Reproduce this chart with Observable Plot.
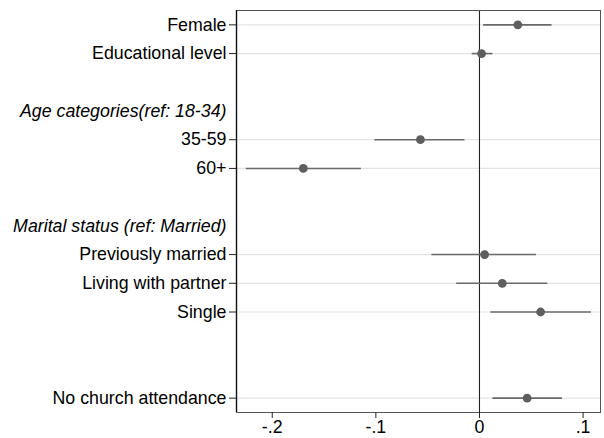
<!DOCTYPE html>
<html>
<head>
<meta charset="utf-8">
<script src="https://cdn.jsdelivr.net/npm/d3@7"></script>
<script src="https://cdn.jsdelivr.net/npm/@observablehq/plot@0.6"></script>
<style>
  html, body { margin: 0; padding: 0; background: #fff; }
  #chart { width: 604px; height: 438px; }
</style>
</head>
<body>
<div id="chart"></div>
<script>
// Row order from top to bottom (blank rows are spacer slots)
const rowOrder = ["Female", "Educational level", " 1",
  "Age categories(ref: 18-34)", "35-59", "60+", " 2",
  "Marital status (ref: Married)", "Previously married", "Living with partner", "Single",
  " 3", " 4", "No church attendance"];
const headers = ["Age categories(ref: 18-34)", "Marital status (ref: Married)"];
const variables = ["Female", "Educational level", "35-59", "60+",
  "Previously married", "Living with partner", "Single", "No church attendance"];
const estimates = [0.037, 0.002, -0.057, -0.170, 0.005, 0.022, 0.059, 0.046];
const lowers    = [0.004, -0.007, -0.101, -0.225, -0.046, -0.022, 0.011, 0.013];
const uppers    = [0.070, 0.013, -0.014, -0.114, 0.055, 0.066, 0.108, 0.080];
const xTicks = [-0.2, -0.1, 0, 0.1];
const xTickLabels = ["-.2", "-.1", "0", ".1"];

const data = variables.map((v, i) => ({label: v, est: estimates[i], lo: lowers[i], hi: uppers[i]}));

const chart = Plot.plot({
  width: 604,
  height: 438,
  marginLeft: 236,
  marginRight: 4,
  marginTop: 10,
  marginBottom: 26,
  style: {fontFamily: "'Liberation Sans', Arial, sans-serif", fontSize: "17.8px", color: "#000", background: "#fff"},
  x: {domain: [-0.2345, 0.1168]},
  y: {type: "point", domain: rowOrder, padding: 0.5, round: false},
  marks: [
    Plot.ruleY(variables, {y: d => d, stroke: "#e4e4e4", strokeWidth: 1.2}),
    Plot.ruleX([0], {stroke: "#222", strokeWidth: 1.1}),
    Plot.ruleY(data, {y: "label", x1: "lo", x2: "hi", stroke: "#6a6a6a", strokeWidth: 1.6}),
    Plot.dot(data, {y: "label", x: "est", r: 4.4, fill: "#5e5e5e", stroke: "none"}),
    Plot.frame({stroke: "#555", strokeWidth: 1}),
    Plot.ruleX([-0.2345], {stroke: "#111", strokeWidth: 1.4}),
    Plot.axisY({ticks: variables, tickSize: 7, tickPadding: 3, fontSize: 17.8, label: null, stroke: "#222"}),
    Plot.text(headers, {y: d => d, text: d => d, frameAnchor: "left", textAnchor: "end", dx: -10, fontStyle: "italic", fontSize: 17.8, fill: "#000"}),
    Plot.axisX({ticks: xTicks, tickFormat: (d) => xTickLabels[xTicks.indexOf(d)], tickSize: 6, tickPadding: 2, fontSize: 17.8, label: null, stroke: "#222"})
  ]
});
document.getElementById("chart").appendChild(chart);
</script>
</body>
</html>
